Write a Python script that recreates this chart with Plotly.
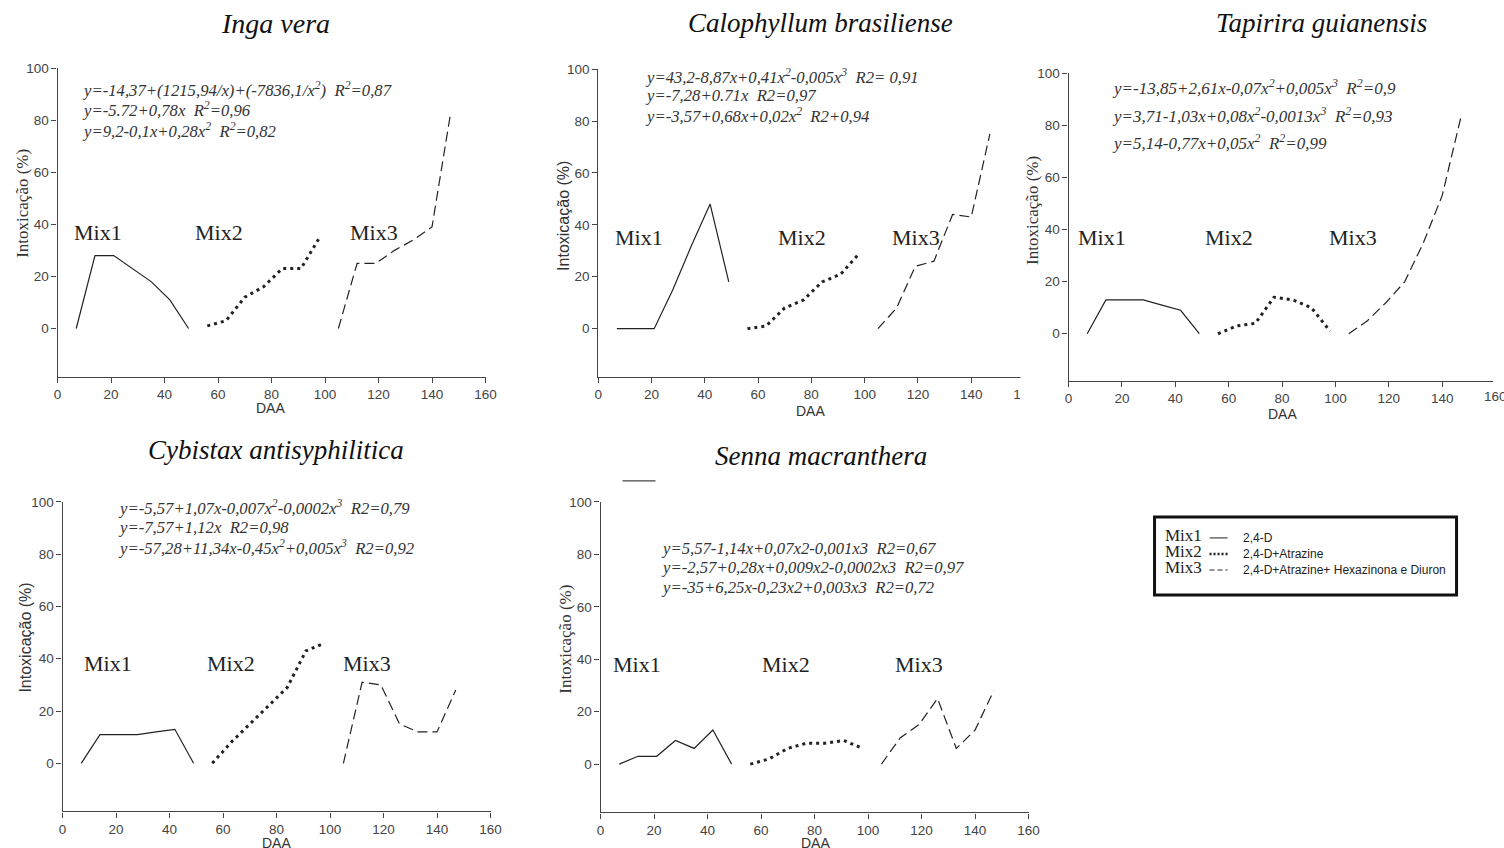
import plotly.graph_objects as go

W, H = 1504, 848

# ---------------- data ----------------
days_mix1 = [7, 14, 21, 28, 35, 42, 49]
days_mix2 = [56, 63, 70, 77, 84, 91, 98]
days_mix3 = [105, 112, 119, 126, 133, 140, 147]

species = ["Inga vera", "Calophyllum brasiliense", "Tapirira guianensis",
           "Cybistax antisyphilitica", "Senna macranthera"]

inga_mix1 = [0, 28, 28, 23, 18, 11, 0]
inga_mix2 = [1, 3, 12, 16, 23, 23, 35]
inga_mix3 = [0, 25, 25, 30, 34, 39, 83]

calo_mix1 = [0, 0, 0, 15, 32, 48, 18]
calo_mix2 = [0, 1, 8, 11, 18, 21, 29]
calo_mix3 = [0, 8, 24, 26, 44, 43, 75]

tapi_mix1 = [0, 13, 13, 13, 11, 9, 0]
tapi_mix2 = [0, 3, 4, 14, 13, 10, 1]
tapi_mix3 = [0, 5, 12, 20, 35, 53, 83]

cybi_mix1 = [0, 11, 11, 11, 12, 13, 0]
cybi_mix2 = [0, 8, 15, 22, 29, 43, 46]
cybi_mix3 = [0, 31, 30, 15, 12, 12, 28]

senn_mix1 = [0, 3, 3, 9, 6, 13, 0]
senn_mix2 = [0, 2, 6, 8, 8, 9, 6]
senn_mix3 = [0, 10, 15, 25, 6, 13, 28]

equations = [
    ["y=-14,37+(1215,94/x)+(-7836,1/x<sup>2</sup>)\u00a0\u00a0R<sup>2</sup>=0,87",
     "y=-5.72+0,78x\u00a0\u00a0R<sup>2</sup>=0,96",
     "y=9,2-0,1x+0,28x<sup>2</sup>\u00a0\u00a0R<sup>2</sup>=0,82"],
    ["y=43,2-8,87x+0,41x<sup>2</sup>-0,005x<sup>3</sup>\u00a0\u00a0R2=\u00a00,91",
     "y=-7,28+0.71x\u00a0\u00a0R2=0,97",
     "y=-3,57+0,68x+0,02x<sup>2</sup>\u00a0\u00a0R2+0,94"],
    ["y=-13,85+2,61x-0,07x<sup>2</sup>+0,005x<sup>3</sup>\u00a0\u00a0R<sup>2</sup>=0,9",
     "y=3,71-1,03x+0,08x<sup>2</sup>-0,0013x<sup>3</sup>\u00a0\u00a0R<sup>2</sup>=0,93",
     "y=5,14-0,77x+0,05x<sup>2</sup>\u00a0\u00a0R<sup>2</sup>=0,99"],
    ["y=-5,57+1,07x-0,007x<sup>2</sup>-0,0002x<sup>3</sup>\u00a0\u00a0R2=0,79",
     "y=-7,57+1,12x\u00a0\u00a0R2=0,98",
     "y=-57,28+11,34x-0,45x<sup>2</sup>+0,005x<sup>3</sup>\u00a0\u00a0R2=0,92"],
    ["y=5,57-1,14x+0,07x2-0,001x3\u00a0\u00a0R2=0,67",
     "y=-2,57+0,28x+0,009x2-0,0002x3\u00a0\u00a0R2=0,97",
     "y=-35+6,25x-0,23x2+0,003x3\u00a0\u00a0R2=0,72"],
]

x_ticks = [0, 20, 40, 60, 80, 100, 120, 140, 160]
y_ticks = [0, 20, 40, 60, 80, 100]
mix_names = ["Mix1", "Mix2", "Mix3"]
legend_desc = ["2,4-D", "2,4-D+Atrazine", "2,4-D+Atrazine+ Hexazinona e Diuron"]

series = [
    (inga_mix1, inga_mix2, inga_mix3),
    (calo_mix1, calo_mix2, calo_mix3),
    (tapi_mix1, tapi_mix2, tapi_mix3),
    (cybi_mix1, cybi_mix2, cybi_mix3),
    (senn_mix1, senn_mix2, senn_mix3),
]

# ---------------- layout geometry (target pixels) ----------------
panels = [
    dict(xl=57, xr=485, yt=68, yb=376, ymin=-18.5),
    dict(xl=597.7, xr=1024, yt=69, yb=376, ymin=-18.5),
    dict(xl=1068, xr=1495, yt=73, yb=380, ymin=-18),
    dict(xl=62, xr=490, yt=501, yb=810, ymin=-18.4),
    dict(xl=600, xr=1028, yt=501, yb=811, ymin=-18.4),
]
title_pos = [(275, 23, 28), (820, 23, 27), (1321, 23, 27), (275, 449, 27), (820, 455, 27)]
eq_pos = [(79, [89, 109, 130], 16.7), (642, [76, 95, 115], 16.7), (1109, [87, 115, 142], 17),
          (115, [507, 527, 547], 16.7), (658, [548, 567, 586], 16.7)]
mix_pos = [([5.4, 50.6, 108.5], 37), ([5.5, 66.6, 109.4], 35), ([2.7, 50.3, 96.8], 37),
           ([7.2, 53.2, 104], 38), ([3.9, 59.6, 109.3], 38)]
ylab = [(22, 203, "Liberation Serif", 17), (563, 216, "Liberation Sans", 16),
        (1032, 210, "Liberation Serif", 17), (25, 637, "Liberation Sans", 16),
        (565, 638, "Liberation Serif", 17)]
daa_pos = [(270, 407), (810, 410), (1282, 413), (276, 842), (815, 842)]

# compensation for the slight scaling seen in the rendered screenshot
S, OX, OY = 0.99, 3.5, 7.0
cx = lambda x: (x - OX) / S
cy = lambda y: (y - OY) / S
px = lambda x: cx(x) / W
py = lambda y: 1 - cy(y) / H

LINE = "#222222"
styles = [dict(color=LINE, width=1.2, dash="solid"),
          dict(color=LINE, width=3, dash="3px,4px"),
          dict(color=LINE, width=1.2, dash="10px,5px")]
days = [days_mix1, days_mix2, days_mix3]
axfont = dict(family="Liberation Sans, Arial", size=13.5, color="#444")

fig = go.Figure()
annotations = []
shapes = []

for i, (p, ser) in enumerate(zip(panels, series)):
    k = "" if i == 0 else str(i + 1)
    xa, ya = "x" + k, "y" + k
    for j in range(3):
        fig.add_trace(go.Scatter(x=days[j], y=ser[j], mode="lines", line=styles[j],
                                 xaxis=xa, yaxis=ya, showlegend=False, hoverinfo="skip"))
    # keep the data scale when the right edge would fall outside the paper
    xl_c, xr_c = cx(p["xl"]), cx(p["xr"])
    xmax = 160.0
    if xr_c > W:
        xmax = 160.0 * (W - xl_c) / (xr_c - xl_c)
        xr_c = W
    fig.layout["xaxis" + k] = dict(
        domain=[xl_c / W, xr_c / W], range=[0, xmax], anchor=ya,
        tickvals=x_ticks, ticks="outside", ticklen=5,
        tickcolor="#444", showline=True, linecolor="#444", linewidth=1.2,
        showgrid=False, zeroline=False, tickfont=axfont, fixedrange=True)
    fig.layout["yaxis" + k] = dict(
        domain=[py(p["yb"]), py(p["yt"])], range=[p["ymin"], 100], anchor=xa,
        tickvals=y_ticks, ticks="outside", ticklen=5, tickcolor="#444",
        showline=True, linecolor="#444", linewidth=1.2,
        showgrid=False, zeroline=False, tickfont=axfont, fixedrange=True)

    tx, ty, tsz = title_pos[i]
    annotations.append(dict(text="<i>" + species[i] + "</i>", x=px(tx), y=py(ty),
                            xref="paper", yref="paper", showarrow=False,
                            xanchor="center", yanchor="middle",
                            font=dict(family="Liberation Serif", size=tsz, color="#111")))
    ex, eys, esz = eq_pos[i]
    for line, ey in zip(equations[i], eys):
        annotations.append(dict(text="<i>" + line + "</i>", x=px(ex), y=py(ey),
                                xref="paper", yref="paper", showarrow=False,
                                xanchor="left", yanchor="middle",
                                font=dict(family="Liberation Serif", size=esz, color="#333")))
    mxs, my = mix_pos[i]
    for name, mx in zip(mix_names, mxs):
        annotations.append(dict(text=name, x=mx, y=my, xref=xa, yref=ya, showarrow=False,
                                xanchor="left", yanchor="middle",
                                font=dict(family="Liberation Serif", size=22, color="#222")))
    lx, ly, lf, ls = ylab[i]
    annotations.append(dict(text="Intoxicação (%)", x=px(lx), y=py(ly), xref="paper",
                            yref="paper", showarrow=False, textangle=-90,
                            xanchor="center", yanchor="middle",
                            font=dict(family=lf, size=ls, color="#333")))
    dx, dy = daa_pos[i]
    annotations.append(dict(text="DAA", x=px(dx), y=py(dy), xref="paper", yref="paper",
                            showarrow=False, xanchor="center", yanchor="middle",
                            font=dict(family="Liberation Sans", size=14, color="#333")))

# panel 3: its last x tick label "160" is cut by the right edge of the image
annotations.append(dict(text="160", x=px(1495), y=py(396), xref="paper", yref="paper",
                        showarrow=False, xanchor="center", yanchor="middle",
                        font=axfont))

# panel 2's right end is hidden under panel 3 (only "1" of "160" shows)
shapes.append(dict(type="rect", xref="paper", yref="paper", layer="above",
                   x0=px(1020), x1=px(1037), y0=py(420), y1=py(368),
                   fillcolor="white", line=dict(width=0)))

# legend box
shapes.append(dict(type="rect", xref="paper", yref="paper",
                   x0=px(1154), x1=px(1456), y0=py(594), y1=py(516),
                   line=dict(color="#111", width=3)))
leg_rows = [535, 551, 567]
for j in range(3):
    yy = leg_rows[j]
    annotations.append(dict(text=mix_names[j], x=px(1162), y=py(yy), xref="paper",
                            yref="paper", showarrow=False, xanchor="left", yanchor="middle",
                            font=dict(family="Liberation Serif", size=17, color="#222")))
    shapes.append(dict(type="line", xref="paper", yref="paper",
                       x0=px(1209), x1=px(1227), y0=py(yy + 2), y1=py(yy + 2),
                       line=dict(color=LINE, width=[1, 2.5, 1][j],
                                 dash=["solid", "2px,2px", "5px,3px"][j])))
    annotations.append(dict(text=legend_desc[j], x=px(1240), y=py(yy + 2), xref="paper",
                            yref="paper", showarrow=False, xanchor="left", yanchor="middle",
                            font=dict(family="Liberation Sans", size=12, color="#222")))

# stray short line in the Senna panel (as in source image)
shapes.append(dict(type="line", xref="paper", yref="paper", x0=px(622), x1=px(655),
                   y0=py(480), y1=py(480), line=dict(color="#444", width=1.2)))

fig.update_layout(width=W, height=H, margin=dict(l=0, r=0, t=0, b=0),
                  paper_bgcolor="white", plot_bgcolor="white",
                  annotations=annotations, shapes=shapes, showlegend=False)

fig.write_html("out.html", config={"displayModeBar": False},
               post_script="document.body.style.margin='0px';"
                           "document.body.style.overflow='hidden';")
